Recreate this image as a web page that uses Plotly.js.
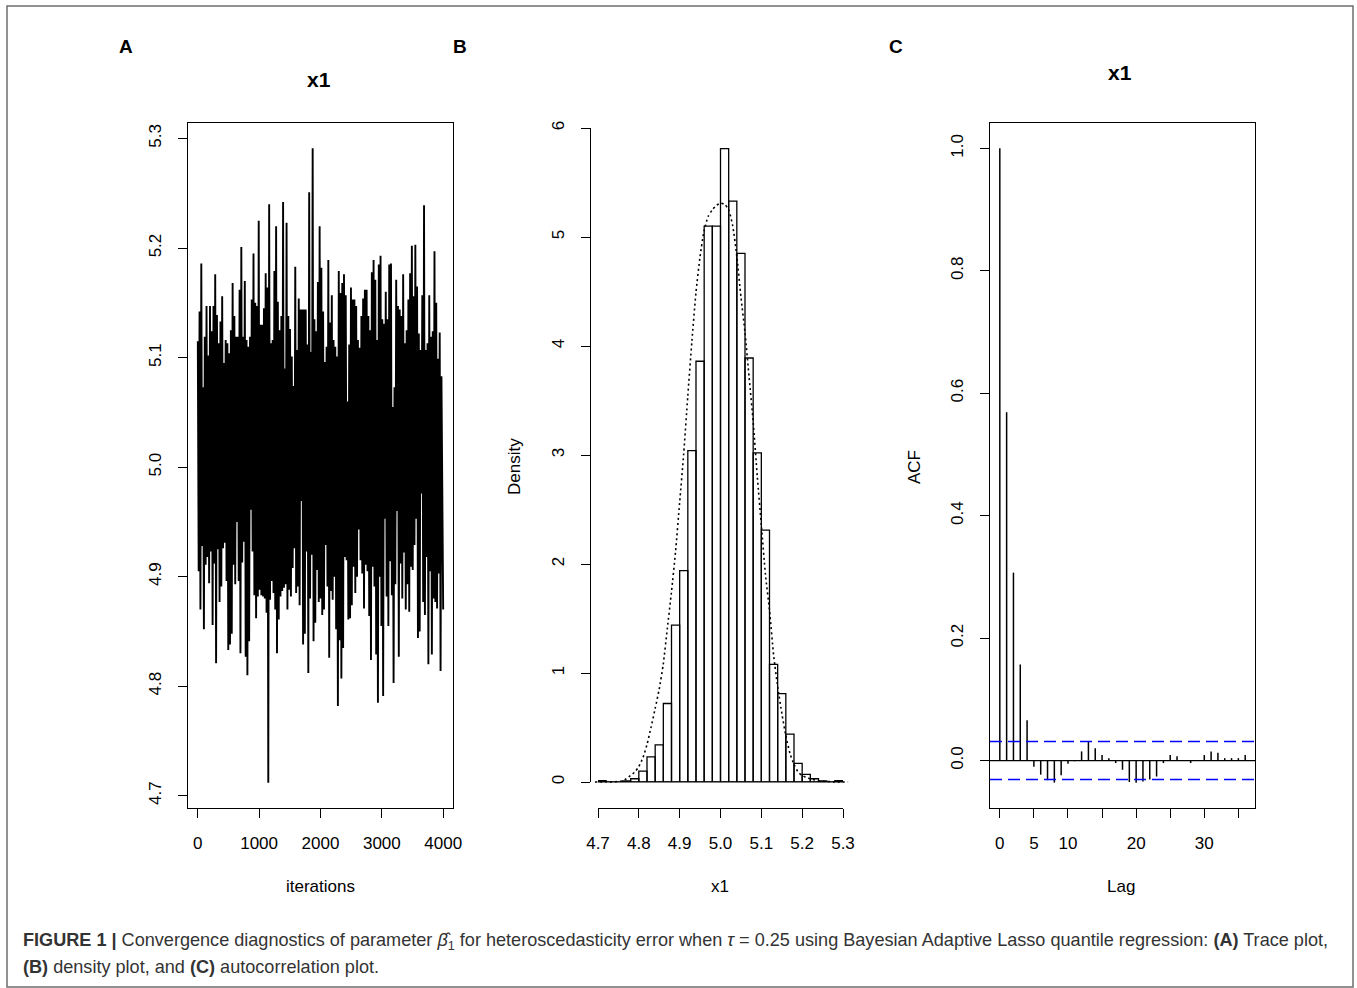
<!DOCTYPE html>
<html><head><meta charset="utf-8">
<script src="https://cdn.plot.ly/plotly-3.0.1.min.js"></script>
<style>html,body{margin:0;padding:0;background:#fff}</style>
</head><body>
<div id="chart" style="width:1357px;height:988px"></div>
<script>
// ---------- Panel A: trace (upper and lower excursions, in iteration order) ----------
const traceHigh = [
5.115,5.142,5.186,5.073,5.119,5.147,5.102,5.147,5.124,5.147,
5.176,5.139,5.113,5.133,5.156,5.095,5.116,5.113,5.104,5.125,
5.168,5.138,5.119,5.119,5.162,5.201,5.119,5.170,5.116,5.110,
5.119,5.153,5.195,5.150,5.147,5.225,5.130,5.130,5.145,5.177,
5.164,5.240,5.113,5.116,5.179,5.220,5.151,5.125,5.138,5.242,
5.090,5.223,5.138,5.126,5.101,5.074,5.183,5.107,5.154,5.144,
5.144,5.144,5.144,5.112,5.251,5.105,5.291,5.135,5.124,5.169,
5.220,5.182,5.142,5.096,5.110,5.189,5.132,5.157,5.116,5.110,
5.101,5.179,5.159,5.168,5.176,5.157,5.060,5.112,5.164,5.153,
5.153,5.147,5.116,5.109,5.138,5.154,5.162,5.162,5.138,5.125,
5.178,5.189,5.171,5.116,5.185,5.193,5.135,5.131,5.160,5.135,
5.185,5.186,5.055,5.073,5.171,5.147,5.144,5.138,5.176,5.113,
5.125,5.153,5.177,5.202,5.156,5.203,5.165,5.122,5.107,5.157,
5.239,5.107,5.113,5.157,5.119,5.124,5.197,5.150,5.099,5.123,
5.083];
const traceLow = [
4.905,4.870,4.928,4.852,4.911,4.918,4.894,4.923,4.856,4.912,
4.821,4.925,4.877,4.891,4.926,4.931,4.896,4.833,4.838,4.848,
4.911,4.893,4.950,4.896,4.830,4.913,4.932,4.827,4.810,4.841,
4.961,4.923,4.883,4.862,4.882,4.888,4.883,4.882,4.880,4.867,
4.712,4.879,4.896,4.885,4.870,4.830,4.861,4.882,4.887,4.890,
4.893,4.870,4.888,4.882,4.908,4.926,4.885,4.891,4.874,4.969,
4.838,4.848,4.923,4.812,4.880,4.920,4.841,4.858,4.906,4.877,
4.880,4.865,4.870,4.929,4.891,4.826,4.887,4.879,4.900,4.852,
4.782,4.842,4.807,4.835,4.918,4.915,4.861,4.862,4.874,4.909,
4.885,4.900,4.943,4.915,4.903,4.871,4.911,4.905,4.864,4.824,
4.909,4.891,4.829,4.785,4.900,4.855,4.791,4.953,4.882,4.855,
4.914,4.883,4.803,4.893,4.960,4.827,4.912,4.880,4.922,4.870,
4.893,4.868,4.909,4.906,4.929,4.953,4.844,4.850,4.976,4.877,
4.865,4.918,4.820,4.905,4.829,4.880,4.877,4.871,4.903,4.814,
4.937,4.870];
const totalIterations = 4000;
const iterTicks = [0, 1000, 2000, 3000, 4000];
const valueTicksA = [4.7, 4.8, 4.9, 5.0, 5.1, 5.2, 5.3];

// ---------- Panel B: histogram + density ----------
const histBinStart = [4.70,4.72,4.74,4.76,4.78,4.80,4.82,4.84,4.86,4.88,
                      4.90,4.92,4.94,4.96,4.98,5.00,5.02,5.04,5.06,5.08,
                      5.10,5.12,5.14,5.16,5.18,5.20,5.22,5.24,5.26,5.28];
const histDensity  = [0.0125,0,0,0.01,0.03,0.10,0.23,0.34,0.72,1.44,
                      1.94,3.04,3.86,5.10,5.10,5.81,5.33,4.85,3.89,3.02,
                      2.31,1.08,0.81,0.44,0.17,0.07,0.03,0.01,0,0.0125];
const binWidth = 0.02;
const densityX = [4.693,4.72,4.74,4.76,4.77,4.78,4.79,4.80,4.81,4.82,4.83,4.84,4.85,4.86,4.87,4.88,4.89,
                  4.90,4.91,4.92,4.93,4.94,4.95,4.96,4.97,4.98,4.99,5.00,5.01,5.02,5.03,5.04,5.05,5.06,
                  5.07,5.08,5.09,5.10,5.11,5.12,5.13,5.14,5.15,5.16,5.17,5.18,5.19,5.20,5.21,5.22,5.24,
                  5.26,5.28,5.312];
const densityY = [0,0,0.002,0.01,0.03,0.06,0.09,0.14,0.22,0.34,0.50,0.67,0.85,1.08,1.41,1.74,2.11,
                  2.56,3.01,3.54,4.04,4.49,4.82,5.06,5.19,5.25,5.29,5.31,5.30,5.25,5.10,4.82,4.45,4.12,
                  3.71,3.30,2.80,2.35,1.90,1.57,1.16,0.87,0.63,0.42,0.26,0.16,0.09,0.06,0.04,0.03,0.01,
                  0.005,0,0];
const x1Ticks = [4.7, 4.8, 4.9, 5.0, 5.1, 5.2, 5.3];
const densityTicks = [0, 1, 2, 3, 4, 5, 6];

// ---------- Panel C: autocorrelation ----------
const acfLag = [0,1,2,3,4,5,6,7,8,9,10,11,12,13,14,15,16,17,18,19,20,21,22,23,24,25,26,27,28,29,30,31,32,33,34,35,36];
const acfValue = [1.0,0.569,0.307,0.157,0.066,-0.010,-0.023,-0.032,-0.036,-0.024,-0.005,-0.001,0.015,0.031,0.020,
                  0.009,0.004,-0.004,-0.015,-0.035,-0.036,-0.034,-0.031,-0.026,-0.004,0.009,0.007,0.001,-0.004,
                  0.001,0.009,0.015,0.013,0.004,0.004,0.004,0.009];
const acfBound = 0.031;
const lagLabelTicks = [0, 5, 10, 20, 30];
const lagMinorTicks = [15, 25, 35];
const acfTicks = [0.0, 0.2, 0.4, 0.6, 0.8, 1.0];

// ---------- helpers ----------
const W = 1357, H = 988;
const px = v => v / W;
const py = v => 1 - v / H;
const FONT = 'Liberation Sans, Arial, Helvetica, sans-serif';
function pad(lo, hi) { const d = (hi - lo) * 0.04; return [lo - d, hi + d]; }

// interleave trace excursions
const traceValues = [];
for (let i = 0; i < Math.max(traceHigh.length, traceLow.length); i++) {
  if (i < traceHigh.length) traceValues.push(traceHigh[i]);
  if (i < traceLow.length) traceValues.push(traceLow[i]);
}
const traceIter = traceValues.map((_, k) => 1 + k * (totalIterations - 1) / (traceValues.length - 1));

const acfX = [], acfY = [];
acfLag.forEach((l, i) => { acfX.push(l, l, null); acfY.push(0, acfValue[i], null); });

const histEnd = histBinStart[histBinStart.length - 1] + binWidth;

const traces = [
  { type: 'scatter', mode: 'lines', x: traceIter, y: traceValues, xaxis: 'x', yaxis: 'y',
    line: { color: '#000', width: 1.9 }, hoverinfo: 'skip' },
  { type: 'scatter', mode: 'lines', x: [histBinStart[0], histEnd], y: [0, 0], xaxis: 'x2', yaxis: 'y2',
    line: { color: '#000', width: 1.2 }, hoverinfo: 'skip' },
  { type: 'scatter', mode: 'lines', x: densityX, y: densityY, xaxis: 'x2', yaxis: 'y2',
    line: { color: '#000', width: 1.6, dash: '2px,3px', shape: 'spline', smoothing: 0.6 }, hoverinfo: 'skip' },
  { type: 'bar', x: histBinStart, y: histDensity, width: binWidth, offset: 0, xaxis: 'x5', yaxis: 'y5',
    marker: { color: 'rgba(255,255,255,0)', line: { color: '#000', width: 1.3 } }, cliponaxis: false, hoverinfo: 'skip' },
  { type: 'scatter', mode: 'lines', x: acfX, y: acfY, xaxis: 'x3', yaxis: 'y3',
    line: { color: '#000', width: 1.5 }, hoverinfo: 'skip', connectgaps: false }
];

const axBase = {
  showgrid: false, zeroline: false, showline: true, linecolor: '#000', linewidth: 1,
  ticks: 'outside', ticklen: 9, tickwidth: 1, tickcolor: '#000',
  tickfont: { family: FONT, size: 17, color: '#000' }, fixedrange: true
};
const xStand = 11, yStand = 10;

const layout = {
  width: W, height: H, margin: { l: 0, r: 0, t: 0, b: 0 },
  paper_bgcolor: '#fff', plot_bgcolor: 'rgba(0,0,0,0)', showlegend: false,
  font: { family: FONT, color: '#000' },
  // Panel A
  xaxis: Object.assign({}, axBase, { domain: [px(188), px(453)], range: pad(1, totalIterations), anchor: 'y',
    tickvals: iterTicks, tickformat: 'd', mirror: true, ticklabelstandoff: xStand }),
  yaxis: Object.assign({}, axBase, { domain: [py(808), py(123)], range: pad(Math.min(...traceValues), Math.max(...traceValues)),
    anchor: 'x', tickvals: valueTicksA, tickformat: '.1f', tickangle: -90, mirror: true, ticklabelstandoff: yStand }),
  // Panel B data axes (hidden)
  xaxis2: { domain: [px(588), px(853)], range: pad(histBinStart[0], histEnd), anchor: 'y2', visible: false, fixedrange: true },
  yaxis2: { domain: [py(808), py(124)], range: [-0.2385, 6.037], anchor: 'x2', visible: false, fixedrange: true },
  // Panel B visible axes (span the tick range only, as in R)
  xaxis5: Object.assign({}, axBase, { domain: [px(598), px(843)], range: [x1Ticks[0], x1Ticks[x1Ticks.length - 1]],
    anchor: 'free', position: py(808), tickvals: x1Ticks, tickformat: '.1f', ticklabelstandoff: xStand }),
  yaxis5: Object.assign({}, axBase, { domain: [py(782), py(128)], range: [densityTicks[0], densityTicks[densityTicks.length - 1]],
    anchor: 'free', position: px(590), tickvals: densityTicks, tickangle: -90, ticklabelstandoff: yStand }),
  // Panel C
  xaxis3: Object.assign({}, axBase, { domain: [px(990), px(1255)], range: pad(acfLag[0], acfLag[acfLag.length - 1]), anchor: 'y3',
    tickvals: lagLabelTicks, mirror: true, ticklabelstandoff: xStand,
    minor: { tickvals: lagMinorTicks, ticks: 'outside', ticklen: 9, tickwidth: 1, tickcolor: '#000', showgrid: false } }),
  yaxis3: Object.assign({}, axBase, { domain: [py(808), py(123)], range: pad(Math.min(...acfValue, -acfBound), Math.max(...acfValue, acfBound)),
    anchor: 'x3', tickvals: acfTicks, tickformat: '.1f', tickangle: -90, mirror: true, ticklabelstandoff: yStand }),
  shapes: [
    { type: 'line', xref: 'x3 domain', yref: 'y3', x0: 0, x1: 1, y0: 0, y1: 0, line: { color: '#000', width: 1.2 } },
    { type: 'line', xref: 'x3 domain', yref: 'y3', x0: 0, x1: 1, y0: acfBound, y1: acfBound, line: { color: '#0000FF', width: 1.5, dash: '12px,6px' } },
    { type: 'line', xref: 'x3 domain', yref: 'y3', x0: 0, x1: 1, y0: -acfBound, y1: -acfBound, line: { color: '#0000FF', width: 1.5, dash: '12px,6px' } },
    { type: 'rect', xref: 'paper', yref: 'paper', x0: px(7), x1: px(1353), y0: py(987), y1: py(6), line: { color: '#6e6e6e', width: 1.5 } }
  ],
  annotations: [
    { text: '<b>A</b>', x: px(126), y: py(46) },
    { text: '<b>B</b>', x: px(460), y: py(46) },
    { text: '<b>C</b>', x: px(896), y: py(46) },
    { text: '<b>x1</b>', x: px(319), y: py(80), font: { size: 21 } },
    { text: '<b>x1</b>', x: px(1120), y: py(72), font: { size: 21 } },
    { text: 'iterations', x: px(320), y: py(886), font: { size: 17 } },
    { text: 'x1', x: px(720), y: py(886), font: { size: 17 } },
    { text: 'Lag', x: px(1121), y: py(886), font: { size: 17 } },
    { text: 'Density', x: px(514), y: py(467), textangle: -90, font: { size: 17 } },
    { text: 'ACF', x: px(914), y: py(467), textangle: -90, font: { size: 17 } },
    { text: '<b>FIGURE 1 |</b> Convergence diagnostics of parameter <i>β̂</i><sub>1</sub> for heteroscedasticity error when <i>τ</i> = 0.25 using Bayesian Adaptive Lasso quantile regression: <b>(A)</b> Trace plot,',
      x: px(21), y: py(941), xanchor: 'left', font: { size: 18.1, color: '#333' } },
    { text: '<b>(B)</b> density plot, and <b>(C)</b> autocorrelation plot.',
      x: px(21), y: py(967), xanchor: 'left', font: { size: 18.1, color: '#333' } }
  ].map(a => Object.assign({ xref: 'paper', yref: 'paper', showarrow: false, xanchor: 'center', yanchor: 'middle' },
    a, { font: Object.assign({ family: FONT, color: '#000', size: 19 }, a.font || {}) }))
};

Plotly.newPlot('chart', traces, layout, { staticPlot: true, displayModeBar: false });
</script>
</body></html>
